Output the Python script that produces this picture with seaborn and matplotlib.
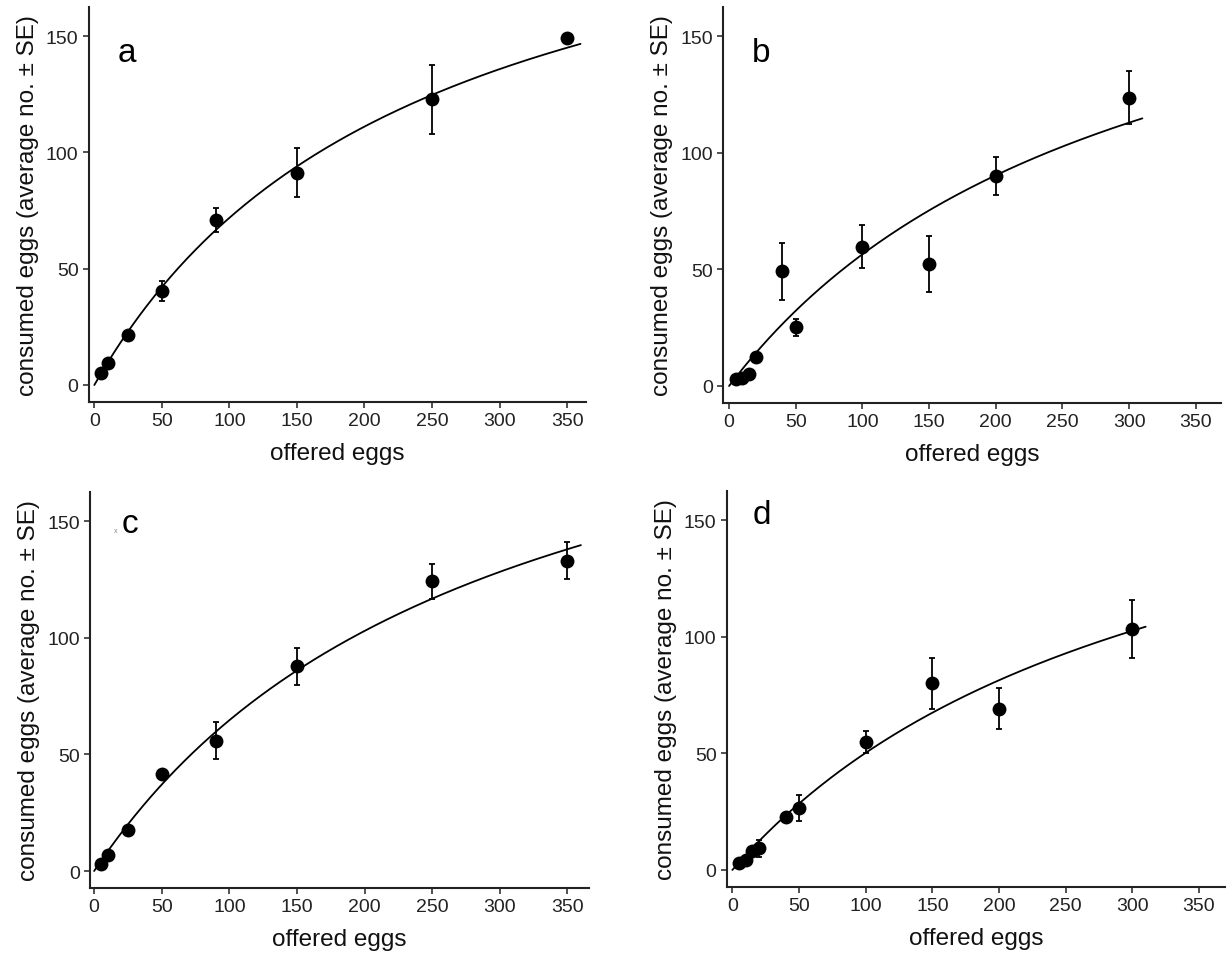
import numpy as np
import pandas as pd
import matplotlib
matplotlib.use("Agg")
import matplotlib.pyplot as plt
import seaborn as sns

# ===== DATA =====
offered_a = [5, 10, 25, 50, 90, 150, 250, 350]
eaten_a = [5.0, 9.6, 21.5, 40.4, 70.8, 91.2, 122.8, 149.1]
se_a = [0, 0, 0, 4.2, 5.2, 10.5, 14.8, 0]

offered_b = [5, 10, 15, 20, 40, 50, 100, 150, 200, 300]
eaten_b = [2.9, 3.3, 5.0, 12.5, 49.1, 25.2, 59.8, 52.4, 90.2, 123.7]
se_b = [0, 0, 0, 0, 12.2, 3.7, 9.3, 11.9, 8.2, 11.3]

offered_c = [5, 10, 25, 50, 90, 150, 250, 350]
eaten_c = [3.2, 6.9, 17.5, 41.5, 55.9, 87.7, 124.2, 133.0]
se_c = [0, 0, 0, 0, 7.9, 8.1, 7.4, 7.9]

offered_d = [5, 10, 15, 20, 40, 50, 100, 150, 200, 300]
eaten_d = [2.9, 4.3, 8.3, 9.3, 22.5, 26.6, 54.8, 80.0, 69.2, 103.3]
se_d = [0, 0, 0, 3.6, 0, 5.7, 4.8, 10.9, 8.7, 12.5]

# Holling type II fit: attack rate, handling time, curve end
attack = [1.018, 0.753, 0.869, 0.656]
handling = [0.00409, 0.00443, 0.00396, 0.00467]
curve_end = [360, 310, 360, 310]

letters = ["a", "b", "c", "d"]

# ===== PLOT =====
sns.set_theme(style="ticks")
plt.rcParams["font.family"] = ["Liberation Sans", "DejaVu Sans"]

fig = plt.figure(figsize=(12.32, 9.54), dpi=100)
boxes = [
    [0.0722, 0.5776, 0.4034, 0.4140],
    [0.5869, 0.5765, 0.4042, 0.4151],
    [0.0731, 0.0681, 0.4050, 0.4151],
    [0.5901, 0.0692, 0.4042, 0.4151],
]
xlims = [(-4, 364), (-4.5, 369), (-3, 366), (-4, 369.5)]
letter_pos = [(0.058, 0.863), (0.058, 0.864), (0.064, 0.899), (0.052, 0.919)]

panels = [
    (offered_a, eaten_a, se_a),
    (offered_b, eaten_b, se_b),
    (offered_c, eaten_c, se_c),
    (offered_d, eaten_d, se_d),
]

for i, (xs, ys, se) in enumerate(panels):
    ax = fig.add_axes(boxes[i])
    df = pd.DataFrame({"offered": xs, "eaten": ys, "se": se})

    n = np.linspace(0, curve_end[i], 300)
    fit = attack[i] * n / (1 + attack[i] * handling[i] * n)
    sns.lineplot(x=n, y=fit, ax=ax, color="black", lw=1.3, zorder=2)

    bars = df[df["se"] > 0]
    ax.errorbar(bars["offered"], bars["eaten"], yerr=bars["se"], fmt="none",
                ecolor="black", elinewidth=1.3, capsize=2.5, capthick=1.3, zorder=3)
    sns.scatterplot(data=df, x="offered", y="eaten", ax=ax, color="black",
                    s=100, edgecolor="black", linewidth=0, zorder=4)

    ax.set_xlim(*xlims[i])
    ax.set_ylim(-7.3, 162.5)
    ax.set_xticks(range(0, 351, 50))
    ax.set_yticks([0, 50, 100, 150])
    ax.set_xlabel("offered eggs", fontsize=17.5, labelpad=9, color="#111111")
    ax.set_ylabel("consumed eggs (average no. \u00b1 SE)", fontsize=17.5,
                  labelpad=5, color="#111111")
    ax.tick_params(labelsize=14, length=4.3, width=1.2, color="#333333", pad=3.2,
                   labelcolor="#222222")
    for sp in ["left", "bottom"]:
        ax.spines[sp].set_linewidth(1.5)
        ax.spines[sp].set_color("#222222")
    sns.despine(ax=ax)

    ax.text(letter_pos[i][0], letter_pos[i][1], letters[i], transform=ax.transAxes,
            fontsize=24, ha="left", va="baseline", color="black")
    if letters[i] == "c":
        ax.text(0.054, 0.9, "x", transform=ax.transAxes, fontsize=5,
                ha="right", va="baseline", color="#888888")

fig.savefig("out.png", dpi=100)
